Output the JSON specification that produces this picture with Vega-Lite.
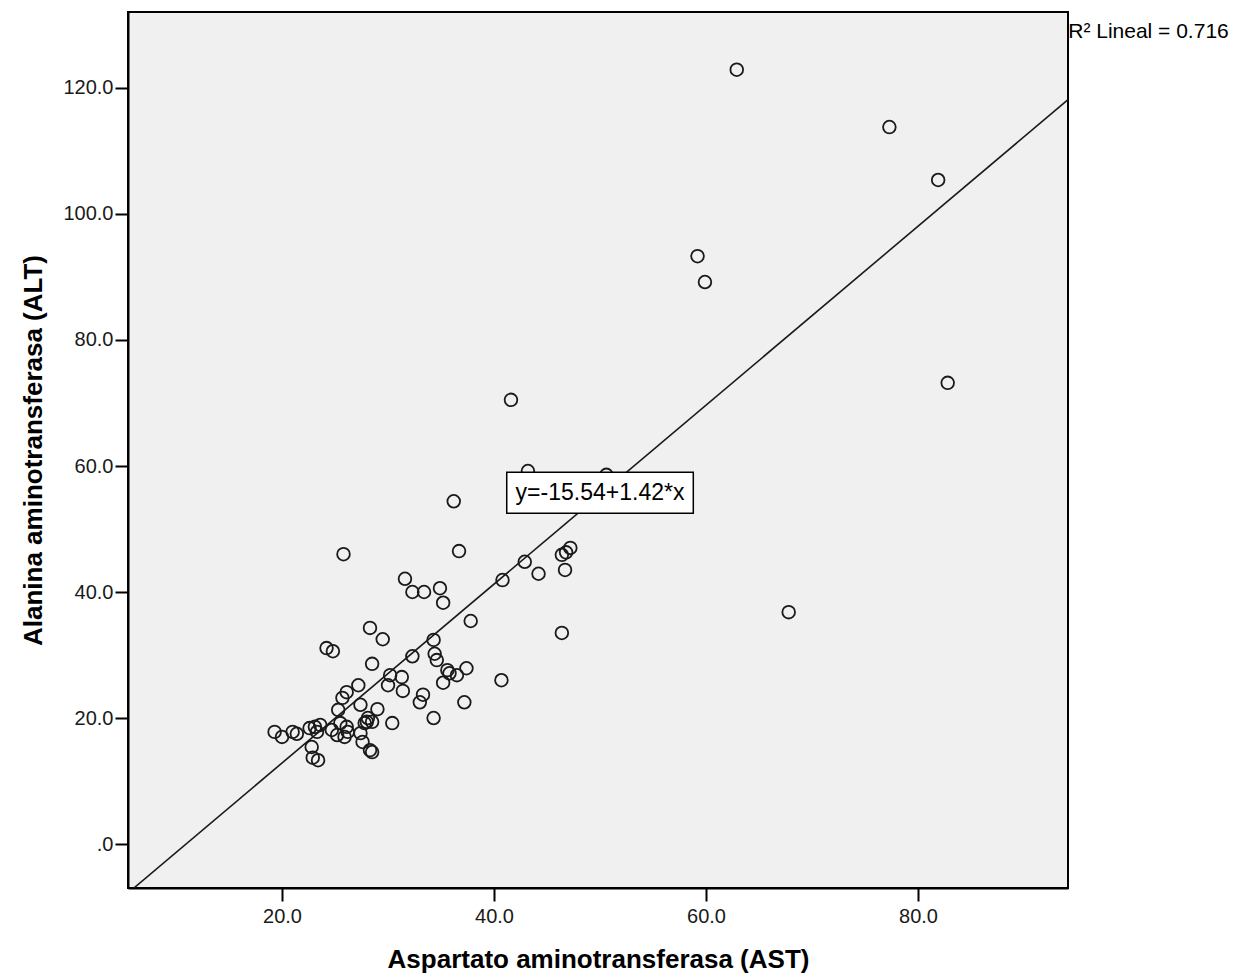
{
  "$schema": "https://vega.github.io/schema/vega-lite/v6.json",
  "width": 940,
  "height": 876,
  "autosize": {"type": "none"},
  "padding": {"left": 128, "top": 12, "right": 170, "bottom": 92},
  "background": "white",
  "config": {
    "view": {"fill": "#f0f0f0", "stroke": "#000000", "strokeWidth": 2},
    "font": "Liberation Sans",
    "axis": {
      "labelFont": "Liberation Sans",
      "labelFontSize": 20,
      "labelColor": "#1a1a1a",
      "titleFont": "Liberation Sans",
      "titleFontSize": 26,
      "titleFontWeight": "bold",
      "titleColor": "#000000",
      "domainColor": "#000000",
      "domainWidth": 2,
      "tickColor": "#000000",
      "tickWidth": 2,
      "tickSize": 13,
      "grid": false
    }
  },
  "datasets": {
    "points": [
      {"AST": 62.9, "ALT": 122.9}, {"AST": 77.3, "ALT": 113.8}, {"AST": 81.9, "ALT": 105.4},
      {"AST": 59.2, "ALT": 93.3}, {"AST": 59.9, "ALT": 89.2}, {"AST": 82.8, "ALT": 73.2},
      {"AST": 67.8, "ALT": 36.8}, {"AST": 41.6, "ALT": 70.5}, {"AST": 43.2, "ALT": 59.2},
      {"AST": 50.6, "ALT": 58.6}, {"AST": 36.2, "ALT": 54.4}, {"AST": 25.8, "ALT": 46.0},
      {"AST": 36.7, "ALT": 46.5}, {"AST": 31.6, "ALT": 42.1}, {"AST": 32.3, "ALT": 40.0},
      {"AST": 33.4, "ALT": 40.0}, {"AST": 34.9, "ALT": 40.6}, {"AST": 35.2, "ALT": 38.3},
      {"AST": 40.8, "ALT": 41.9}, {"AST": 42.9, "ALT": 44.8}, {"AST": 44.2, "ALT": 42.9},
      {"AST": 46.4, "ALT": 45.9}, {"AST": 46.8, "ALT": 46.3}, {"AST": 47.2, "ALT": 47.0},
      {"AST": 46.7, "ALT": 43.5}, {"AST": 46.4, "ALT": 33.5}, {"AST": 37.8, "ALT": 35.4},
      {"AST": 40.7, "ALT": 26.0},
      {"AST": 19.3, "ALT": 17.8}, {"AST": 20.0, "ALT": 17.0}, {"AST": 21.0, "ALT": 17.8},
      {"AST": 21.4, "ALT": 17.5}, {"AST": 22.6, "ALT": 18.4}, {"AST": 23.1, "ALT": 18.6},
      {"AST": 23.6, "ALT": 18.9}, {"AST": 23.3, "ALT": 17.8}, {"AST": 22.8, "ALT": 15.4},
      {"AST": 22.9, "ALT": 13.7}, {"AST": 23.4, "ALT": 13.3}, {"AST": 24.7, "ALT": 18.1},
      {"AST": 25.2, "ALT": 17.3}, {"AST": 25.5, "ALT": 19.2}, {"AST": 26.1, "ALT": 18.6},
      {"AST": 26.2, "ALT": 17.8}, {"AST": 25.9, "ALT": 17.0}, {"AST": 25.3, "ALT": 21.3},
      {"AST": 25.7, "ALT": 23.2}, {"AST": 26.1, "ALT": 24.1}, {"AST": 27.2, "ALT": 25.2},
      {"AST": 27.4, "ALT": 22.1}, {"AST": 27.4, "ALT": 17.6}, {"AST": 27.8, "ALT": 19.2},
      {"AST": 28.0, "ALT": 19.4}, {"AST": 28.1, "ALT": 20.0}, {"AST": 28.5, "ALT": 19.4},
      {"AST": 29.0, "ALT": 21.4}, {"AST": 27.6, "ALT": 16.2}, {"AST": 28.3, "ALT": 14.9},
      {"AST": 28.5, "ALT": 14.6}, {"AST": 28.5, "ALT": 28.6}, {"AST": 28.3, "ALT": 34.3},
      {"AST": 29.5, "ALT": 32.5}, {"AST": 24.2, "ALT": 31.1}, {"AST": 24.8, "ALT": 30.6},
      {"AST": 30.2, "ALT": 26.8}, {"AST": 31.3, "ALT": 26.5}, {"AST": 30.0, "ALT": 25.2},
      {"AST": 31.4, "ALT": 24.3}, {"AST": 32.3, "ALT": 29.8}, {"AST": 30.4, "ALT": 19.2},
      {"AST": 33.3, "ALT": 23.7}, {"AST": 33.0, "ALT": 22.5}, {"AST": 34.3, "ALT": 20.0},
      {"AST": 34.3, "ALT": 32.4}, {"AST": 34.4, "ALT": 30.2}, {"AST": 34.6, "ALT": 29.2},
      {"AST": 35.6, "ALT": 27.6}, {"AST": 35.8, "ALT": 27.1}, {"AST": 36.5, "ALT": 26.8},
      {"AST": 37.4, "ALT": 27.9}, {"AST": 35.2, "ALT": 25.6}, {"AST": 37.2, "ALT": 22.5}
    ],
    "fit": [
      {"AST": 6.02, "ALT": -6.99},
      {"AST": 94.15, "ALT": 118.15}
    ],
    "box": [
      {"x1": 41.2, "x2": 58.8, "y1": 52.5, "y2": 59.0, "cx": 50.0, "cy": 55.7, "label": "y=-15.54+1.42*x"}
    ],
    "r2": [
      {"AST": 94.17, "ALT": 128.9, "label": "R² Lineal = 0.716"}
    ]
  },
  "layer": [
    {
      "data": {"name": "points"},
      "mark": {"type": "point", "shape": "circle", "filled": false, "size": 160, "stroke": "#1a1a1a", "strokeWidth": 1.8, "opacity": 1},
      "encoding": {
        "x": {
          "field": "AST", "type": "quantitative",
          "scale": {"domain": [5.47, 94.15], "nice": false, "zero": false},
          "axis": {
            "values": [20, 40, 60, 80],
            "labelExpr": "datum.value == 0 ? '.0' : format(datum.value, '.1f')",
            "labelPadding": 5,
            "title": "Aspartato aminotransferasa (AST)",
            "titlePadding": 20
          }
        },
        "y": {
          "field": "ALT", "type": "quantitative",
          "scale": {"domain": [-6.98, 132.06], "nice": false, "zero": false},
          "axis": {
            "values": [0, 20, 40, 60, 80, 100, 120],
            "labelExpr": "datum.value == 0 ? '.0' : format(datum.value, '.1f')",
            "labelPadding": 2,
            "title": "Alanina aminotransferasa (ALT)",
            "titlePadding": 16
          }
        }
      }
    },
    {
      "data": {"name": "fit"},
      "mark": {"type": "line", "color": "#1a1a1a", "strokeWidth": 1.6, "clip": true},
      "encoding": {
        "x": {"field": "AST", "type": "quantitative"},
        "y": {"field": "ALT", "type": "quantitative"}
      }
    },
    {
      "data": {"name": "box"},
      "mark": {"type": "rect", "fill": "#ffffff", "stroke": "#000000", "strokeWidth": 1.5},
      "encoding": {
        "x": {"field": "x1", "type": "quantitative"},
        "x2": {"field": "x2"},
        "y": {"field": "y1", "type": "quantitative"},
        "y2": {"field": "y2"}
      }
    },
    {
      "data": {"name": "box"},
      "mark": {"type": "text", "font": "Liberation Sans", "fontSize": 23, "color": "#000000", "align": "center", "baseline": "middle"},
      "encoding": {
        "x": {"field": "cx", "type": "quantitative"},
        "y": {"field": "cy", "type": "quantitative"},
        "text": {"field": "label"}
      }
    },
    {
      "data": {"name": "r2"},
      "mark": {"type": "text", "font": "Liberation Sans", "fontSize": 21, "color": "#000000", "align": "left", "baseline": "middle", "clip": false},
      "encoding": {
        "x": {"field": "AST", "type": "quantitative"},
        "y": {"field": "ALT", "type": "quantitative"},
        "text": {"field": "label"}
      }
    }
  ]
}
